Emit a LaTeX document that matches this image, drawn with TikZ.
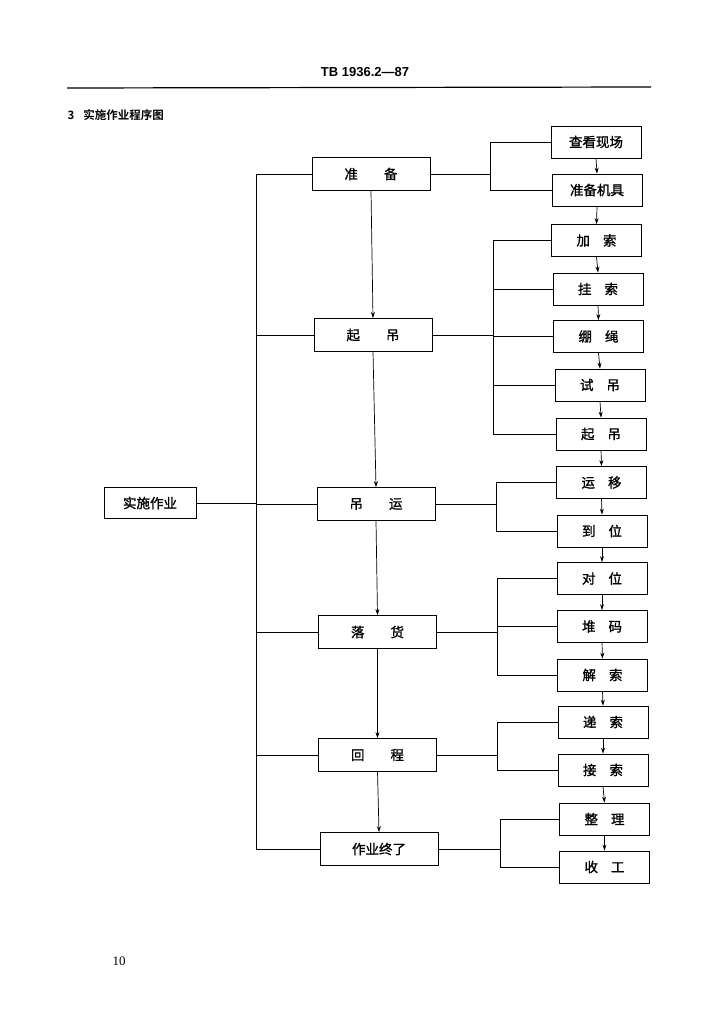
\documentclass[tikz,border=0pt]{standalone}
\usepackage{fontspec}
\setmainfont{Liberation Serif}
\newfontfamily\cjk[FakeBold=1.2]{Noto Sans CJK SC}
\newfontfamily\cjkb{Noto Sans CJK SC Bold}
\newfontfamily\hdrfont{Liberation Sans}
\usetikzlibrary{arrows.meta}
\begin{document}
\begin{tikzpicture}[x=1pt,y=-1pt,
  every node/.style={font=\cjk\fontsize{13.5}{15}\selectfont},
  midbox/.style={draw,line width=0.75pt,minimum width=118pt,minimum height=33pt,inner sep=0pt},
  rbox/.style={draw,line width=0.75pt,minimum width=90pt,minimum height=32pt,inner sep=0pt},
  conn/.style={line width=0.7pt},
  arr/.style={line width=0.7pt,-{Stealth[length=6pt,width=4pt]}}]
\useasboundingbox (0,0) rectangle (721,1024);
% header
\node[font=\hdrfont\bfseries\fontsize{13}{15}\selectfont] (hdr) at (365,72) {TB 1936.2—87};
\coordinate (rl) at (67,88);
\coordinate (rr) at (651,87);
\draw[line width=1.2pt] (rl) -- (rr);
\node[anchor=west,font=\cjkb\fontsize{11.5}{13}\selectfont] (ttl) at (64,115) {3\hspace{9pt}实施作业程序图};
% left
\node[rbox,minimum width=92pt,minimum height=31pt] (ss) at (150,503) {实施作业};
% middle
\node[midbox] (zb) at (371,174) {准\hspace{26pt}备};
\node[midbox] (qd) at (373,335) {起\hspace{26pt}吊};
\node[midbox] (dy) at (376,504) {吊\hspace{26pt}运};
\node[midbox] (lh) at (377.5,632) {落\hspace{26pt}货};
\node[midbox] (hc) at (377.5,755) {回\hspace{26pt}程};
\node[midbox] (zy) at (379,849) {作业终了};
% right
\node[rbox] (r1) at (596,142) {查看现场};
\node[rbox] (r2) at (597,190) {准备机具};
\node[rbox] (r3) at (596.5,240.5) {加\hspace{13pt}索};
\node[rbox] (r4) at (598,289) {挂\hspace{13pt}索};
\node[rbox] (r5) at (598.5,336.5) {绷\hspace{13pt}绳};
\node[rbox] (r6) at (600,385) {试\hspace{13pt}吊};
\node[rbox] (r7) at (601,434) {起\hspace{13pt}吊};
\node[rbox] (r8) at (601.5,482.5) {运\hspace{13pt}移};
\node[rbox] (r9) at (602,531) {到\hspace{13pt}位};
\node[rbox] (r10) at (602,578.5) {对\hspace{13pt}位};
\node[rbox] (r11) at (602,626.5) {堆\hspace{13pt}码};
\node[rbox] (r12) at (602.5,675) {解\hspace{13pt}索};
\node[rbox] (r13) at (603,722) {递\hspace{13pt}索};
\node[rbox] (r14) at (603,770) {接\hspace{13pt}索};
\node[rbox] (r15) at (604.5,819) {整\hspace{13pt}理};
\node[rbox] (r16) at (604.5,867) {收\hspace{13pt}工};
% left bus
\coordinate (lb) at (256,0);
\coordinate (lb1) at (256,174);
\coordinate (lb2) at (256,849);
\draw[conn] (lb1) -- (lb2);
\draw[conn] (ss.east) -- (ss.east -| lb);
\foreach \n in {zb,qd,dy,lh,hc,zy} \draw[conn] (\n.west) -- (\n.west -| lb);
% middle arrows
\draw[arr] (zb.south) -- (qd.north);
\draw[arr] (qd.south) -- (dy.north);
\draw[arr] (dy.south) -- (lh.north);
\draw[arr] (lh.south) -- (hc.north);
\draw[arr] (hc.south) -- (zy.north);
% right arrows
\foreach \a/\b in {r1/r2,r2/r3,r3/r4,r4/r5,r5/r6,r6/r7,r7/r8,r8/r9,r9/r10,r10/r11,r11/r12,r12/r13,r13/r14,r14/r15,r15/r16}
  \draw[arr] (\a.south) -- (\b.north);
% right buses
\coordinate (b1) at (490,0);
\coordinate (b2) at (493,0);
\coordinate (b3) at (496,0);
\coordinate (b4) at (497,0);
\coordinate (b5) at (497,0);
\coordinate (b6) at (500,0);
\draw[conn] (zb.east) -- (zb.east -| b1);
\draw[conn] (b1 |- r1.west) -- (b1 |- r2.west);
\foreach \r in {r1,r2} \draw[conn] (\r.west) -- (\r.west -| b1);
\draw[conn] (qd.east) -- (qd.east -| b2);
\draw[conn] (b2 |- r3.west) -- (b2 |- r7.west);
\foreach \r in {r3,r4,r5,r6,r7} \draw[conn] (\r.west) -- (\r.west -| b2);
\draw[conn] (dy.east) -- (dy.east -| b3);
\draw[conn] (b3 |- r8.west) -- (b3 |- r9.west);
\foreach \r in {r8,r9} \draw[conn] (\r.west) -- (\r.west -| b3);
\draw[conn] (lh.east) -- (lh.east -| b4);
\draw[conn] (b4 |- r10.west) -- (b4 |- r12.west);
\foreach \r in {r10,r11,r12} \draw[conn] (\r.west) -- (\r.west -| b4);
\draw[conn] (hc.east) -- (hc.east -| b5);
\draw[conn] (b5 |- r13.west) -- (b5 |- r14.west);
\foreach \r in {r13,r14} \draw[conn] (\r.west) -- (\r.west -| b5);
\draw[conn] (zy.east) -- (zy.east -| b6);
\draw[conn] (b6 |- r15.west) -- (b6 |- r16.west);
\foreach \r in {r15,r16} \draw[conn] (\r.west) -- (\r.west -| b6);
% page number
\node[font=\fontsize{13}{15}\selectfont] (pg) at (119,961) {10};
\end{tikzpicture}
\end{document}
